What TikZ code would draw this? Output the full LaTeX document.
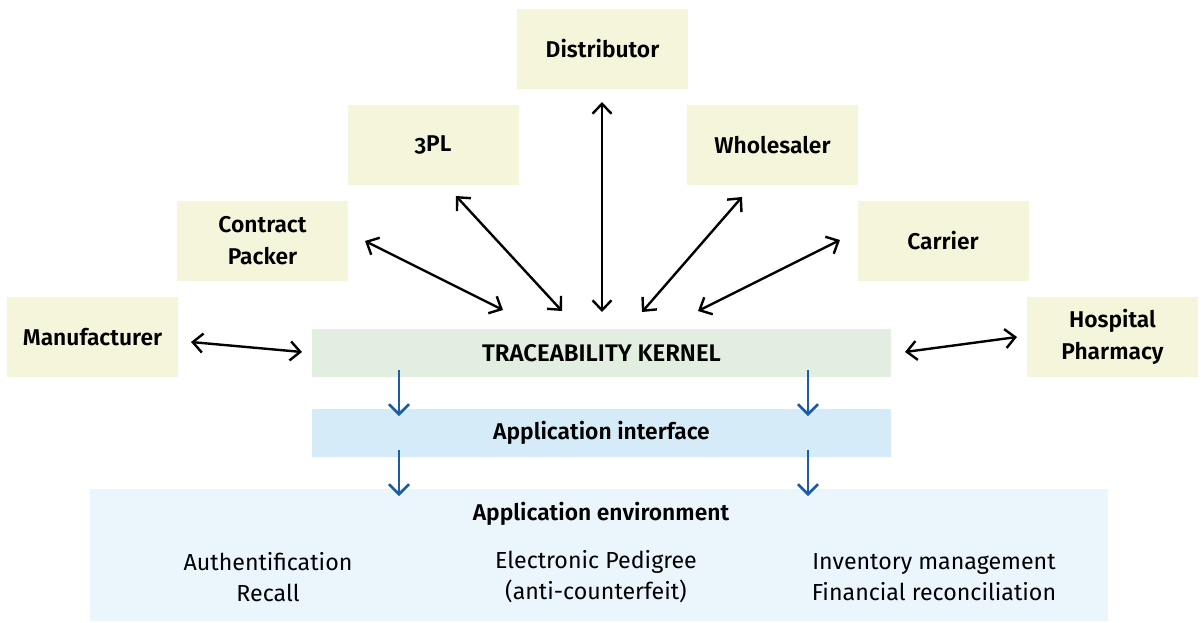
\documentclass[tikz,border=0pt]{standalone}
\usepackage{fontspec}
\setmainfont{Fira Sans}[Numbers=OldStyle,BoldFont={Fira Sans SemiBold}]
\usetikzlibrary{arrows.meta}
\definecolor{partner}{HTML}{F5F5DB}
\definecolor{kernelfill}{HTML}{E2EEDF}
\definecolor{apifill}{HTML}{D5EBF8}
\definecolor{envfill}{HTML}{EAF5FC}
\definecolor{flowblue}{HTML}{1A5DA6}
\tikzset{
  partnerbox/.style={fill=partner, minimum width=171pt, minimum height=80pt,
    inner sep=0pt, align=center, font=\bfseries\fontsize{22.8}{32}\selectfont},
  layerbox/.style={minimum width=579pt, minimum height=48pt, inner sep=0pt,
    font=\bfseries\fontsize{22.8}{26}\selectfont},
  twoway/.style={draw=black, line width=2.4pt,
    {Straight Barb[length=10pt,width=19pt]}-{Straight Barb[length=10pt,width=19pt]}},
  downflow/.style={draw=flowblue, line width=2.6pt,
    -{Straight Barb[length=10pt,width=20pt]}},
  usecase/.style={align=center, font=\fontsize{23.2}{31}\selectfont}
}
\begin{document}
\begin{tikzpicture}[x=1pt,y=-1pt]
\useasboundingbox (0,0) rectangle (1203,622);

% supply chain partners
\node[partnerbox] (manu)  at (92.5,337)  {Manufacturer};
\node[partnerbox] (cpack) at (262.5,240.5) {Contract\\Packer};
\node[partnerbox] (tpl)   at (433,145)   {3PL};
\node[partnerbox] (dist)  at (602.5,49)  {Distributor};
\node[partnerbox] (whole) at (772.5,145) {Wholesaler};
\node[partnerbox] (carr)  at (943,240.5) {Carrier};
\node[partnerbox] (hosp)  at (1112.5,337) {Hospital\\Pharmacy};

% layers
\node[layerbox, fill=kernelfill, font=\bfseries\fontsize{24}{26}\selectfont] (kernel) at (601.5,353) {TRACEABILITY KERNEL};
\node[layerbox, fill=apifill] (api) at (601.5,433) {Application interface};
\node[fill=envfill, minimum width=1018pt, minimum height=132pt, inner sep=0pt] (env) at (599,555) {};
\node[font=\bfseries\fontsize{22.8}{26}\selectfont] (envtitle) at (601,514) {Application environment};
\node[usecase] (uc1) at (268,577) {Authentification\\Recall};
\node[usecase] (uc2) at (596,577) {Electronic Pedigree\\(anti-counterfeit)};
\node[usecase] (uc3) at (934,577) {Inventory management\\Financial reconciliation};

% connector end points
\coordinate (manuA) at (191,342);   \coordinate (manuB) at (302,352);
\coordinate (cpA)   at (365,241);   \coordinate (cpB)   at (503,310);
\coordinate (tplA)  at (456,196);   \coordinate (tplB)  at (562,311);
\coordinate (distA) at (602,102);   \coordinate (distB) at (602,312);
\coordinate (whA)   at (742,197);   \coordinate (whB)   at (642,312);
\coordinate (caA)   at (840,240);   \coordinate (caB)   at (698,311);
\coordinate (hoA)   at (1017,337);  \coordinate (hoB)   at (905,352);

\draw[twoway] (manuA) -- (manuB);
\draw[twoway] (cpA) -- (cpB);
\draw[twoway] (tplA) -- (tplB);
\draw[twoway] (distA) -- (distB);
\draw[twoway] (whA) -- (whB);
\draw[twoway] (caA) -- (caB);
\draw[twoway] (hoA) -- (hoB);

% data flow between layers
\coordinate (kL) at (399,370); \coordinate (aL) at (399,416);
\coordinate (kR) at (808,370); \coordinate (aR) at (808,416);
\coordinate (iL) at (399,450); \coordinate (eL) at (399,496);
\coordinate (iR) at (808,450); \coordinate (eR) at (808,496);
\draw[downflow] (kL) -- (aL);
\draw[downflow] (kR) -- (aR);
\draw[downflow] (iL) -- (eL);
\draw[downflow] (iR) -- (eR);
\end{tikzpicture}
\end{document}
